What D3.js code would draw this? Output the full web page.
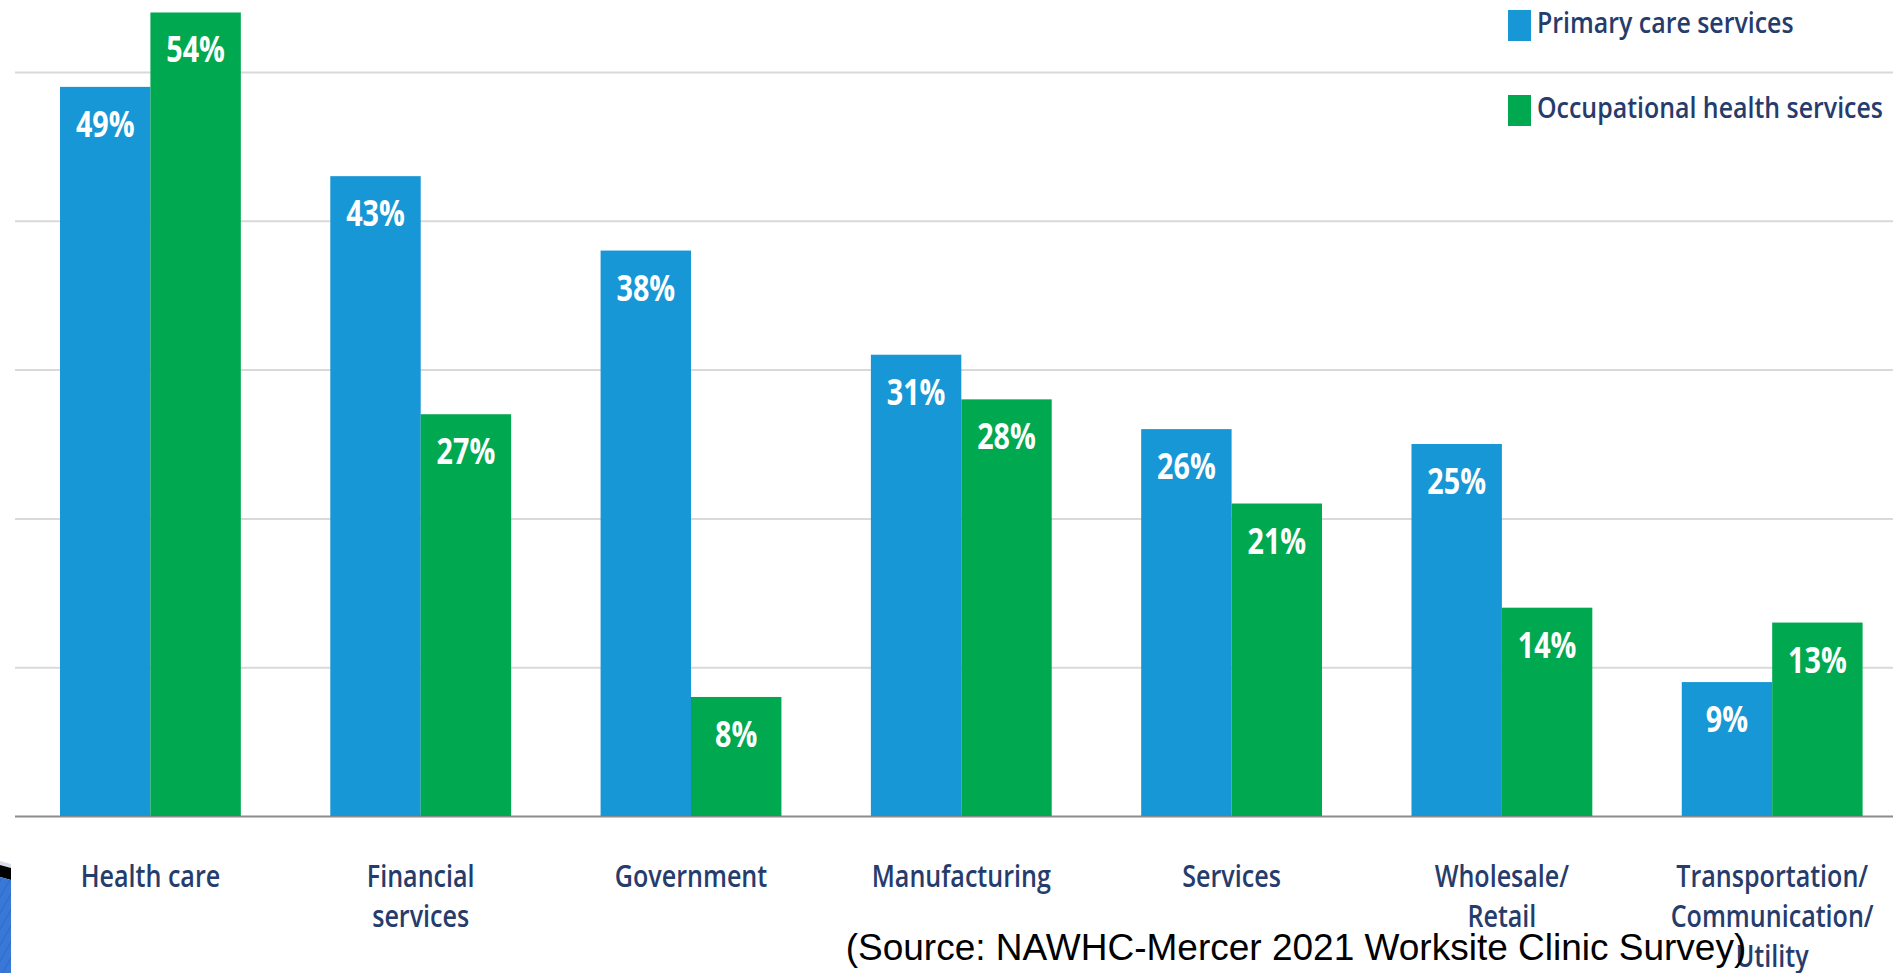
<!DOCTYPE html>
<html>
<head>
<meta charset="utf-8">
<script src="https://cdn.jsdelivr.net/npm/d3@7"></script>
<style>
  html, body { margin: 0; padding: 0; background: #ffffff; overflow: hidden; }
  svg { display: block; }
</style>
</head>
<body>
<svg id="chart" width="1893" height="973"></svg>
<script>
// Worksite clinic services offered, by industry (% of employers)
const categories = [
  "Health care",
  "Financial\nservices",
  "Government",
  "Manufacturing",
  "Services",
  "Wholesale/\nRetail",
  "Transportation/\nCommunication/\nUtility"
];
const seriesNames = ["Primary care services", "Occupational health services"];
const primaryCare = [49, 43, 38, 31, 26, 25, 9];
const occupationalHealth = [54, 27, 8, 28, 21, 14, 13];
const yTicks = [0, 10, 20, 30, 40, 50];
const sourceNote = "(Source: NAWHC-Mercer 2021 Worksite Clinic Survey)";

const W = 1893, H = 973;
const colors = { "Primary care services": "#1797d5", "Occupational health services": "#00a84f" };
const labelColor = "#263c6c";
const uiFont = "'Open Sans', 'Noto Sans', sans-serif";

const rows = categories.map((c, i) => ({
  category: c,
  values: [
    { series: seriesNames[0], value: primaryCare[i] },
    { series: seriesNames[1], value: occupationalHealth[i] }
  ]
}));

const svg = d3.select("#chart");

const x0 = d3.scaleBand().domain(categories).range([60, 1862.6]).paddingInner(0.331).paddingOuter(0);
const x1 = d3.scaleBand().domain(seriesNames).range([0, x0.bandwidth()]).padding(0);
const y = d3.scaleLinear().domain([0, 50]).range([816, 72]);

// Horizontal gridlines and baseline
const grid = svg.append("g")
  .attr("transform", "translate(15,0)")
  .call(d3.axisLeft(y).tickValues(yTicks).tickSize(-(W - 15)).tickFormat(""));
grid.select(".domain").remove();
grid.selectAll(".tick line")
  .attr("stroke", d => d === 0 ? "#8c8c8c" : "#d9d9d9")
  .attr("stroke-width", 2);

// Bars
const groups = svg.append("g").selectAll("g")
  .data(rows).join("g")
  .attr("transform", d => `translate(${x0(d.category)},0)`);

groups.selectAll("rect")
  .data(d => d.values).join("rect")
  .attr("x", d => x1(d.series))
  .attr("y", d => y(d.value))
  .attr("width", x1.bandwidth())
  .attr("height", d => y(0) - y(d.value))
  .attr("fill", d => colors[d.series]);

// Value labels inside the bars
groups.selectAll("g.val")
  .data(d => d.values).join("g")
  .attr("class", "val")
  .attr("transform", d => `translate(${x1(d.series) + x1.bandwidth() / 2},${y(d.value) + 50}) scale(0.82,1)`)
  .append("text")
  .attr("text-anchor", "middle")
  .attr("fill", "#ffffff")
  .attr("font-family", uiFont)
  .attr("font-weight", 700)
  .attr("font-size", 35)
  .text(d => d.value + "%");

// Category labels under the axis
const catLabels = svg.append("g").selectAll("g")
  .data(categories).join("g")
  .attr("transform", d => `translate(${x0(d) + x0.bandwidth() / 2},887) scale(0.81,1)`)
  .append("text")
  .attr("text-anchor", "middle")
  .attr("fill", labelColor)
  .attr("font-family", uiFont)
  .attr("font-weight", 600)
  .attr("font-size", 31);
catLabels.selectAll("tspan")
  .data(d => d.split("\n")).join("tspan")
  .attr("x", 0)
  .attr("dy", (d, i) => i === 0 ? 0 : 40)
  .text(d => d);

// Legend
const legend = svg.append("g").selectAll("g")
  .data(seriesNames).join("g")
  .attr("transform", (d, i) => `translate(1508,${10 + i * 85})`);
legend.append("rect")
  .attr("width", 23).attr("height", 31)
  .attr("fill", d => colors[d]);
legend.append("g")
  .attr("transform", "translate(29,23) scale(0.89,1)")
  .append("text")
  .attr("fill", labelColor)
  .attr("font-family", uiFont)
  .attr("font-weight", 600)
  .attr("font-size", 28)
  .text(d => d);

// Source note
svg.append("text")
  .attr("x", 1296).attr("y", 960)
  .attr("text-anchor", "middle")
  .attr("fill", "#000000")
  .attr("font-family", "Arial, 'Liberation Sans', sans-serif")
  .attr("font-size", 37)
  .text(sourceNote);

// Slide ornament in the lower-left corner
const defs = svg.append("defs");
const pat = defs.append("pattern")
  .attr("id", "stripes").attr("patternUnits", "userSpaceOnUse")
  .attr("width", 8).attr("height", 8)
  .attr("patternTransform", "rotate(30)");
pat.append("rect").attr("width", 8).attr("height", 8).attr("fill", "#3a78d8");
pat.append("line").attr("x1", 0).attr("y1", 0).attr("x2", 0).attr("y2", 8)
  .attr("stroke", "#2a5fb8").attr("stroke-width", 1.2);
const orn = svg.append("g");
orn.append("polygon").attr("points", "0,861 11,864 11,868 0,865").attr("fill", "#d8dde8");
orn.append("polygon").attr("points", "0,865 11,868 11,880 0,877").attr("fill", "#000000");
orn.append("polygon").attr("points", "0,877 11,880 11,973 0,973").attr("fill", "url(#stripes)");
</script>
</body>
</html>
